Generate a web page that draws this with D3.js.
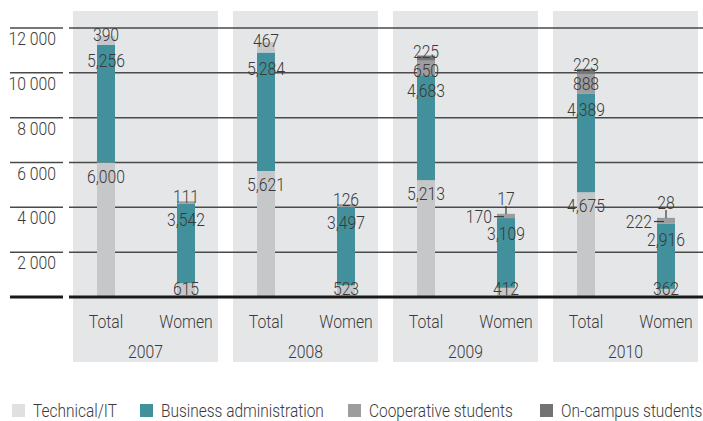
<!DOCTYPE html>
<html>
<head>
<meta charset="utf-8">
<script src="https://cdn.jsdelivr.net/npm/d3@7"></script>
<style>
  body { margin: 0; background: #fff; }
  svg text { font-family: Roboto, "Liberation Sans", sans-serif; font-weight: 300; fill: #3a3a3a; }
</style>
</head>
<body>
<div id="chart"></div>
<script>
// data
const years = ["2007", "2008", "2009", "2010"];
const groups = ["Total", "Women"];
// each entry: [Total, Women]
const technical   = [[6000, 615], [5621, 523], [5213, 412], [4675, 362]];
const business    = [[5256, 3542], [5284, 3497], [4683, 3109], [4389, 2916]];
const dualUnsplit = [[390, 0], [467, 0], [0, 0], [0, 0]];
const cooperative = [[0, 111], [0, 126], [650, 170], [888, 222]];
const onCampus    = [[0, 0], [0, 0], [225, 17], [223, 28]];
const yTicks = [2000, 4000, 6000, 8000, 10000, 12000];
const legendLabels = ["Technical/IT", "Business administration", "Cooperative students", "On-campus students"];

const width = 703, height = 421;
const colors = {
  technical: "#c6c7c9",
  business: "#42909c",
  dualUnsplit: "#c6c7c9",
  cooperative: "#9d9d9f",
  onCampus: "#737375"
};
const legendColors = ["#dfe0e2", colors.business, colors.cooperative, colors.onCampus];

const svg = d3.select("#chart").append("svg")
  .attr("width", width)
  .attr("height", height);

// condensed text: squeeze horizontally
function addText(g, x, y, str, size, anchor, sx) {
  return g.append("text")
    .attr("transform", "translate(" + x + "," + y + ") scale(" + (sx || 0.83) + ",1)")
    .attr("font-size", size)
    .attr("text-anchor", anchor || "middle")
    .text(str);
}

const y = d3.scaleLinear().domain([0, 12000]).range([297, 28]);
const x = d3.scaleBand().domain(years).range([73, 698]).paddingInner(15 / 160).paddingOuter(0);
const xIn = d3.scalePoint().domain(groups).range([33, 113]);
const barW = 18;

const fmt = d3.format(",");
const tickFmt = d3.formatLocale({ decimal: ".", thousands: " ", grouping: [3], currency: ["", ""] }).format(",");

// grey panels
svg.append("g").selectAll("rect")
  .data(years).enter()
  .append("rect")
  .attr("x", d => x(d))
  .attr("y", 11)
  .attr("width", x.bandwidth())
  .attr("height", 351)
  .attr("fill", "#e5e6e8");

// gridlines + tick labels
const grid = svg.append("g");
yTicks.forEach(t => {
  grid.append("line").attr("x1", 10).attr("x2", 63).attr("y1", y(t)).attr("y2", y(t))
    .attr("stroke", "#4a4a4a").attr("stroke-width", 1.5);
  grid.append("line").attr("x1", 69).attr("x2", width).attr("y1", y(t)).attr("y2", y(t))
    .attr("stroke", "#4a4a4a").attr("stroke-width", 1.5);
  addText(grid, 56, y(t) + 17, tickFmt(t), 19, "end");
});

// build stacks
const seriesKeys = ["technical", "business", "dualUnsplit", "cooperative", "onCampus"];
const seriesData = { technical, business, dualUnsplit, cooperative, onCampus };
const bars = [];
years.forEach((yr, i) => {
  groups.forEach((g, j) => {
    let base = 0;
    const segs = [];
    seriesKeys.forEach(k => {
      const v = seriesData[k][i][j];
      if (v > 0) {
        segs.push({ key: k, value: v, y0: base, y1: base + v });
        base += v;
      }
    });
    bars.push({ year: yr, group: g, cx: x(yr) + xIn(g), segs: segs });
  });
});

const barG = svg.append("g");
bars.forEach(b => {
  barG.selectAll(null)
    .data(b.segs).enter()
    .append("rect")
    .attr("x", b.cx - barW / 2)
    .attr("width", barW)
    .attr("y", d => y(d.y1))
    .attr("height", d => y(d.y0) - y(d.y1))
    .attr("fill", d => colors[d.key]);
});

// baseline
svg.append("line").attr("x1", 10).attr("x2", 63).attr("y1", y(0)).attr("y2", y(0))
  .attr("stroke", "#1a1a1a").attr("stroke-width", 3);
svg.append("line").attr("x1", 69).attr("x2", width).attr("y1", y(0)).attr("y2", y(0))
  .attr("stroke", "#1a1a1a").attr("stroke-width", 3);

// value labels
const labG = svg.append("g");
bars.forEach(b => {
  const women = b.group === "Women";
  const split = b.segs.some(s => s.key === "onCampus");
  b.segs.forEach(s => {
    const top = y(s.y1);
    let lx = b.cx, ly, anchor = "middle";
    if (s.key === "technical") {
      ly = women ? y(0) - 2 : top + 20;
    } else if (s.key === "business") {
      ly = top + 22;
    } else if (s.key === "dualUnsplit") {
      ly = top + 5;
    } else if (s.key === "cooperative") {
      if (women && split) {
        const my = (y(s.y0) + y(s.y1)) / 2 + 0.5;
        labG.append("line")
          .attr("x1", b.cx - barW / 2 - 3).attr("x2", b.cx - barW / 2 + 7)
          .attr("y1", my).attr("y2", my)
          .attr("stroke", "#3a3a3a").attr("stroke-width", 1.2);
        lx = b.cx - barW / 2 - 5; anchor = "end"; ly = my + 6;
      } else if (women) {
        ly = top + 2;
      } else {
        ly = top + 16;
      }
    } else if (s.key === "onCampus") {
      if (women) {
        labG.append("line")
          .attr("x1", b.cx).attr("x2", b.cx)
          .attr("y1", top).attr("y2", top - 8)
          .attr("stroke", "#3a3a3a").attr("stroke-width", 1.2);
        ly = top - 9;
      } else {
        ly = top + 2;
      }
    }
    addText(labG, lx, ly, fmt(s.value), 19, anchor);
  });
});

// category + year labels
const catG = svg.append("g");
years.forEach(yr => {
  groups.forEach(g => {
    addText(catG, x(yr) + xIn(g), 328, g, 19);
  });
  addText(catG, x(yr) + x.bandwidth() / 2, 358, yr, 19);
});

// legend
const legX = [12, 140, 348, 540];
const leg = svg.append("g");
legendLabels.forEach((d, i) => {
  leg.append("rect").attr("x", legX[i]).attr("y", 404)
    .attr("width", 13).attr("height", 13).attr("fill", legendColors[i]);
  addText(leg, legX[i] + 21, 417, d, 18, "start", 0.86);
});
</script>
</body>
</html>
